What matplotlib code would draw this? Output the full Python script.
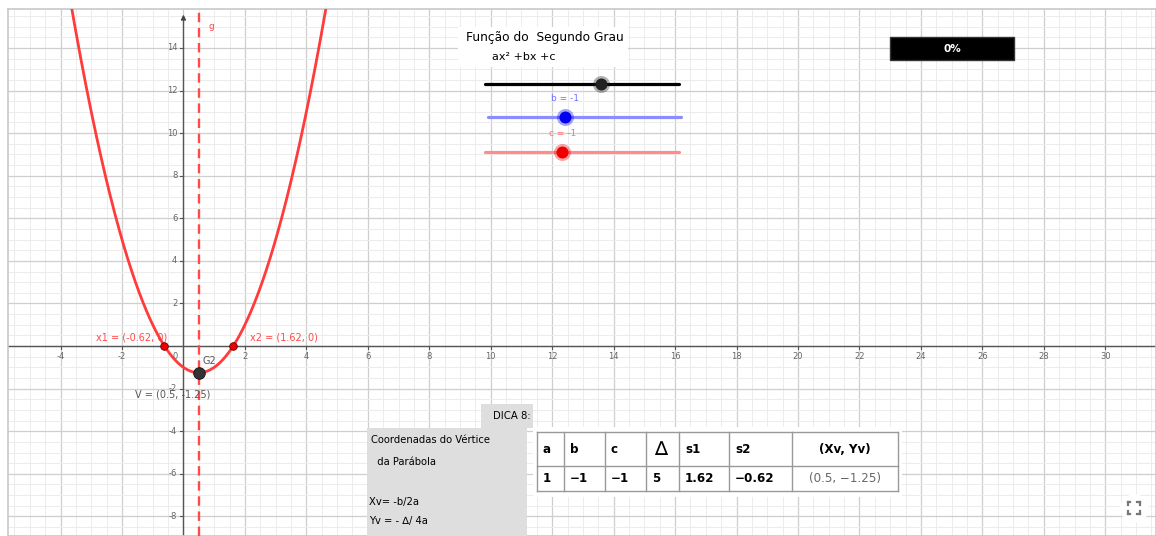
import numpy as np
import matplotlib
matplotlib.use("Agg")
import matplotlib.pyplot as plt
from matplotlib.patches import Rectangle

plt.rcParams['font.family'] = ['DejaVu Sans']

# ---------------- data ----------------
coef_names = ['a', 'b', 'c']
coef_values = [1, -1, -1]
slider_min, slider_max = -5, 5
roots_x = [-0.618, 1.618]
root_labels = ['x1 = (-0.62, 0)', 'x2 = (1.62, 0)']
vertex = (0.5, -1.25)
vertex_label = 'V = (0.5, -1.25)'
axis_sym_x = 0.5
x_tick_values = [v for v in range(-4, 31, 2) if v != 0]
y_tick_values = [v for v in range(-8, 15, 2) if v != 0]
table_header = ['a', 'b', 'c', '\u2206', 's1', 's2', '(Xv, Yv)']
table_row = ['1', '\u22121', '\u22121', '5', '1.62', '\u22120.62', '(0.5, \u22121.25)']
progress_text = '0%'

# ---------------- figure ----------------
W, H = 1156, 536
fig = plt.figure(figsize=(W / 100, H / 100), dpi=100)
ax = fig.add_axes([8 / W, 0, 1 - 8 / W, 527 / H])
xmin, xmax = -5.71, 31.65
ymin, ymax = -8.92, 15.83
ax.set_xlim(xmin, xmax)
ax.set_ylim(ymin, ymax)
ax.set_xticks([])
ax.set_yticks([])
for s in ax.spines.values():
    s.set_color('#c8c8c8')
    s.set_linewidth(1.2)

# grid
for xv in np.arange(-5.5, 32, 0.5):
    major = abs(xv / 2 - round(xv / 2)) < 1e-9
    ax.axvline(xv, color='#cfcfcf' if major else '#ececec', lw=0.9 if major else 0.7, zorder=0)
for yv in np.arange(-8.5, 16, 0.5):
    major = abs(yv / 2 - round(yv / 2)) < 1e-9
    ax.axhline(yv, color='#cfcfcf' if major else '#ececec', lw=0.9 if major else 0.7, zorder=0)

# axes
ax.axhline(0, color='#555555', lw=1.0, zorder=2)
ax.plot([0, 0], [ymin, 15.4], color='#555555', lw=1.0, zorder=2)
ax.annotate('', xy=(0, 15.7), xytext=(0, 15.2),
            arrowprops=dict(arrowstyle='-|>', color='#444444', lw=1.0, mutation_scale=7), zorder=2)
for xv in x_tick_values:
    ax.plot([xv, xv], [0, -0.12], color='#555555', lw=0.8, zorder=2)
    ax.text(xv, -0.28, str(xv), ha='center', va='top', fontsize=6, color='#666666', zorder=2)
for yv in y_tick_values:
    ax.plot([0, -0.12], [yv, yv], color='#555555', lw=0.8, zorder=2)
    ax.text(-0.2, yv, str(yv), ha='right', va='center', fontsize=6, color='#666666', zorder=2)
ax.text(-0.2, -0.28, '0', ha='right', va='top', fontsize=6, color='#666666', zorder=2)

# parabola
a, b, c = coef_values
xs = np.linspace(xmin, xmax, 1500)
ax.plot(xs, a * xs ** 2 + b * xs + c, color='#ff3b3b', lw=2.0, zorder=4, solid_capstyle='round')

# axis of symmetry
ax.plot([axis_sym_x, axis_sym_x], [ymin, ymax], color='#ff4a4a', lw=1.7,
        dashes=(4, 2.4), zorder=3)
ax.text(0.83, 15.0, 'g', color='#ff4a4a', fontsize=6.5, ha='left', va='center')

# points
ax.scatter(roots_x, [0, 0], s=30, color='#ee0000', edgecolor='#660000', lw=0.6, zorder=6)
ax.text(-0.54, 0.38, root_labels[0], color='#ff4a4a', fontsize=7, ha='right', va='center')
ax.text(2.16, 0.38, root_labels[1], color='#ff4a4a', fontsize=7, ha='left', va='center')
ax.scatter([vertex[0]], [vertex[1]], s=70, color='#333333', edgecolor='#111111', lw=0.6, zorder=6)
ax.text(0.63, -0.70, 'G2', color='#555555', fontsize=7, ha='left', va='center', zorder=7)
ax.text(-1.58, -2.28, vertex_label, color='#555555', fontsize=7, ha='left', va='center', zorder=7)

# title box
ax.add_patch(Rectangle((8.93, 13.10), 14.46 - 8.93, 14.98 - 13.10, facecolor='white',
                       edgecolor='none', zorder=5))
ax.text(11.76, 14.51, 'Função do  Segundo Grau', fontsize=8.8, ha='center', va='center', zorder=6)
ax.text(10.04, 13.57, 'ax² +bx +c', fontsize=8, ha='left', va='center', zorder=6)

# sliders
slider_geom = [(9.81, 16.12, 12.31), (9.91, 16.19, 10.76), (9.81, 16.12, 9.11)]
slider_line_cols = ['#000000', '#8c8cff', '#ff8c8c']
slider_knob_cols = ['#222222', '#0000ee', '#ee0000']
slider_label_cols = [None, '#6f6fff', '#ff6f6f']
for name, val, (x0, x1, y), lc, kc, tc in zip(coef_names, coef_values, slider_geom,
                                               slider_line_cols, slider_knob_cols, slider_label_cols):
    ax.plot([x0, x1], [y, y], color=lc, lw=2.3, zorder=5, solid_capstyle='round')
    kx = x0 + (val - slider_min) / (slider_max - slider_min) * (x1 - x0)
    ax.scatter([kx], [y], s=150, color=kc, alpha=0.35, lw=0, zorder=6)
    ax.scatter([kx], [y], s=75, color=kc, lw=0, zorder=7)
    if tc is not None:
        ax.text(kx, y + 0.88, f'{name} = {val}', color=tc, fontsize=6.5, ha='center', va='center', zorder=7)

# progress box
ax.add_patch(Rectangle((23.0, 13.43), 4.03, 1.08, facecolor='black', edgecolor='#333333', zorder=5))
ax.text(25.02, 13.97, progress_text, color='white', fontsize=7.5, fontweight='bold',
        ha='center', va='center', zorder=6)

# hint boxes
ax.add_patch(Rectangle((5.97, ymin), 11.18 - 5.97, -3.85 - ymin, facecolor='#dedede',
                       edgecolor='none', zorder=5))
ax.add_patch(Rectangle((9.68, -3.85), 11.37 - 9.68, 1.13, facecolor='#dedede',
                       edgecolor='none', zorder=5))
ax.text(11.3, -3.28, 'DICA 8:', fontsize=7.3, ha='right', va='center', zorder=6)
ax.text(6.10, -4.42, 'Coordenadas do Vértice', fontsize=7.2, ha='left', va='center', zorder=6)
ax.text(6.10, -5.45, '  da Parábola', fontsize=7.2, ha='left', va='center', zorder=6)
ax.text(6.05, -7.33, 'Xv= -b/2a', fontsize=7.2, ha='left', va='center', zorder=6)
ax.text(6.05, -8.22, 'Yv = - \u2206/ 4a', fontsize=7.2, ha='left', va='center', zorder=6)

# table
col_edges = [11.50, 12.38, 13.71, 15.05, 16.12, 17.75, 19.80, 23.25]
row_edges = [-4.04, -5.65, -6.81]
ax.add_patch(Rectangle((11.37, -7.08), 23.40 - 11.37, -3.82 + 7.08, facecolor='white',
                       edgecolor='none', zorder=5))
for xe in col_edges:
    ax.plot([xe, xe], [row_edges[-1], row_edges[0]], color='#999999', lw=1.0, zorder=6)
for ye in row_edges:
    ax.plot([col_edges[0], col_edges[-1]], [ye, ye], color='#999999', lw=1.0, zorder=6)
for i in range(len(table_header)):
    xl, xr = col_edges[i], col_edges[i + 1]
    last = i == len(table_header) - 1
    xt = (xl + xr) / 2 if last else xl + 0.2
    ha = 'center' if last else 'left'
    ym0 = (row_edges[0] + row_edges[1]) / 2
    ym1 = (row_edges[1] + row_edges[2]) / 2
    if table_header[i] == '\u2206':
        ax.text(xt + 0.05, ym0, table_header[i], fontsize=14, ha=ha, va='center', zorder=7)
    else:
        ax.text(xt, ym0, table_header[i], fontsize=8.6, fontweight='bold', ha=ha, va='center', zorder=7)
    ax.text(xt, ym1, table_row[i], fontsize=8.6, fontweight='normal' if last else 'bold',
            color='#666666' if last else 'black', ha=ha, va='center', zorder=7)

# fullscreen button
ax.scatter([30.93], [-7.61], s=420, color='white', lw=0, zorder=8)
for dx in (-1, 1):
    for dy in (-1, 1):
        cx, cy = 30.93 + dx * 0.2, -7.61 + dy * 0.27
        ax.plot([cx, cx - dx * 0.09], [cy, cy], color='#777777', lw=1.6, zorder=9)
        ax.plot([cx, cx], [cy, cy - dy * 0.13], color='#777777', lw=1.6, zorder=9)

fig.savefig('out.png', dpi=100, facecolor='white')
